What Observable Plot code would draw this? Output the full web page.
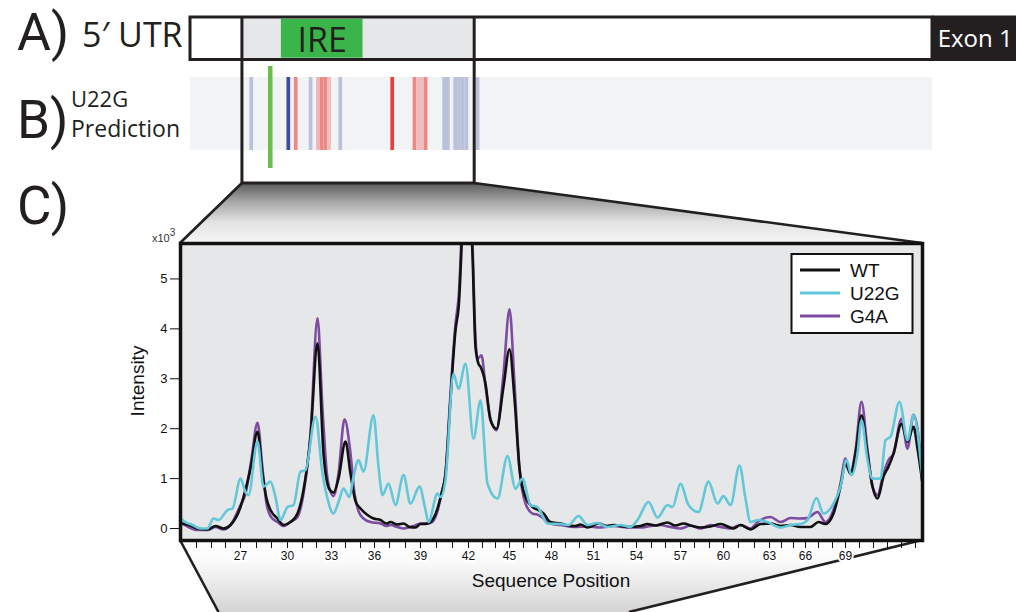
<!DOCTYPE html>
<html><head><meta charset="utf-8">
<script src="https://cdn.jsdelivr.net/npm/d3@7"></script>
<script src="https://cdn.jsdelivr.net/npm/@observablehq/plot@0.6"></script>
<style>
html,body{margin:0;padding:0;background:#fff;}
#fig{position:relative;width:1016px;height:612px;overflow:hidden;background:#fff;}
#fig > svg{position:absolute;left:0;margin:0;}
</style></head><body><div id="fig"></div>
<script>
// ---------------- data ----------------
// Panel A / B schematic (nucleotide coordinates of the 5' UTR)
const utrLength = 200;
const exonSpan = [200, 223];
const zoomRegion = [14, 76.6];
const ireRegion = [24.5, 46.5];
const mutationNt = 22;
const predNt    = [17, 27, 29, 33, 35, 36, 37, 38, 41, 55, 61, 62, 63, 64, 69, 70, 72, 73, 74, 75, 78];
const predDelta = [-0.3, -1, 0.6, -0.3, 0.35, 0.6, 0.6, 0.3, -0.3, 1, 0.6, 0.3, 0.3, 0.6, -0.3, -0.3, -0.3, -0.3, -0.3, -0.3, -0.3];

// Panel C: capillary trace (scan units) and sequence-position alignment
const seqPositions = d3.range(24, 75);
const seqScans = [16, 31, 45, 60, 76, 91, 107, 122, 136, 151, 165, 180, 194, 209, 225, 240, 256, 272, 288, 302,
  315, 329, 343, 357, 371, 385, 399, 413, 427, 442, 456, 471, 485, 500, 514, 529, 543, 558, 574, 589,
  601, 613, 625, 638, 652, 665, 679, 693, 707, 721, 735];
const labeledPositions = [27, 30, 33, 36, 39, 42, 45, 48, 51, 54, 57, 60, 63, 66, 69];
const intensityTicks = [0, 1, 2, 3, 4, 5];
const scanDomain = [0, 742];
const intensityDomain = [-0.24, 5.71];

const seriesNames = ["WT", "U22G", "G4A"];
const seriesColors = ["#111111", "#62c7d9", "#7d4b9f"];

// intensity (x10^3) at scan
const wt = [[0,0.10],[8,0.07],[17,0.0],[27,-0.02],[35,0.05],[43,0.0],[50,0.07],[60,0.43],[63,0.63],[70,1.2],[77,1.94],[82,1.1],[86,0.6],[90,0.37],[97,0.2],[103,0.07],[110,0.13],[117,0.3],[123,0.77],[130,1.84],[137,3.71],[143,1.5],[149,0.78],[153,0.72],[158,1.0],[165,1.74],[170,1.1],[175,0.55],[180,0.4],[187,0.27],[193,0.2],[200,0.17],[206,0.1],[210,0.13],[217,0.08],[223,0.1],[229,0.03],[235,0.02],[240,0.09],[245,0.09],[250,0.13],[257,0.4],[261,0.7],[265,1.1],[270,2.6],[275,3.97],[278,4.4],[286,7.5],[292,5.5],[295,3.64],[298,3.3],[300,3.24],[305,2.9],[310,2.17],[316,2.0],[323,2.84],[329,3.59],[334,2.6],[339,1.2],[345,0.63],[352,0.43],[358,0.37],[363,0.3],[370,0.13],[380,0.1],[388,0.06],[395,0.05],[400,0.08],[407,0.02],[418,0.1],[426,0.05],[433,0.07],[447,0.03],[460,0.05],[467,0.09],[475,0.06],[487,0.12],[495,0.06],[503,0.1],[512,0.05],[520,0.02],[530,0.04],[540,0.09],[553,0.0],[560,0.07],[570,-0.02],[580,0.09],[590,0.1],[600,0.05],[610,0.07],[620,0.03],[630,0.03],[638,0.13],[645,0.09],[653,0.3],[660,0.84],[665,1.3],[670,1.1],[675,1.5],[681,2.27],[687,1.5],[692,0.84],[697,0.6],[703,1.04],[708,1.24],[713,1.5],[721,2.1],[727,1.74],[733,2.04],[737,1.6],[742,0.9]];
const u22g = [[0,0.2],[5,0.13],[12,0.07],[20,0.0],[27,0.0],[33,0.2],[38,0.17],[47,0.37],[52,0.4],[60,1.0],[65,0.73],[68,0.67],[77,1.74],[83,0.84],[90,0.94],[95,0.63],[100,0.17],[107,0.43],[113,0.47],[120,1.14],[125,1.17],[135,2.24],[142,1.1],[147,0.6],[153,0.3],[158,0.53],[163,0.8],[169,0.63],[173,1.04],[178,1.37],[183,1.14],[193,2.27],[198,1.24],[202,0.67],[208,0.9],[215,0.47],[223,1.07],[230,0.5],[239,0.84],[245,0.37],[248,0.13],[257,0.7],[260,0.63],[265,0.97],[273,3.1],[278,2.8],[285,3.3],[293,1.8],[300,2.57],[307,0.9],[317,0.6],[327,1.45],[335,0.8],[342,1.0],[350,0.47],[357,0.43],[367,0.1],[380,0.09],[388,0.07],[398,0.25],[407,0.07],[417,0.11],[427,0.03],[440,0.07],[450,0.03],[457,0.17],[468,0.53],[477,0.22],[487,0.47],[492,0.43],[500,0.9],[508,0.47],[518,0.33],[528,0.94],[537,0.5],[543,0.65],[550,0.47],[559,1.26],[565,0.6],[570,0.13],[578,0.17],[587,0.13],[600,0.02],[610,0.07],[620,0.09],[627,0.17],[636,0.61],[643,0.3],[653,0.5],[660,0.84],[666,1.37],[671,1.07],[677,1.5],[681,2.17],[687,1.37],[692,1.0],[700,1.0],[705,1.77],[710,1.84],[719,2.54],[727,1.77],[733,2.27],[742,0.97]];
const g4a = [[0,0.13],[8,0.03],[17,-0.03],[27,-0.03],[35,0.03],[43,-0.02],[50,0.07],[60,0.47],[65,0.7],[71,1.4],[77,2.12],[82,1.2],[86,0.5],[90,0.25],[97,0.13],[103,0.05],[110,0.13],[117,0.23],[123,0.7],[130,1.9],[137,4.21],[142,2.4],[147,1.0],[153,0.65],[158,1.1],[164,2.19],[170,1.5],[174,0.7],[178,0.35],[183,0.2],[190,0.13],[200,0.1],[206,0.05],[210,0.07],[217,0.03],[223,0.0],[233,0.05],[240,0.1],[250,0.11],[257,0.35],[261,0.7],[265,1.1],[270,2.7],[275,4.1],[278,4.6],[286,7.8],[292,5.7],[295,3.8],[297,3.4],[301,3.47],[305,2.85],[310,2.2],[316,1.97],[323,3.1],[329,4.39],[334,2.9],[339,1.2],[345,0.5],[352,0.3],[358,0.27],[363,0.2],[370,0.1],[380,0.07],[393,0.03],[407,0.04],[420,0.02],[433,0.05],[447,0.02],[460,0.02],[470,0.05],[480,0.07],[490,0.03],[500,0.0],[510,0.06],[520,0.0],[530,0.07],[540,0.03],[550,0.0],[560,0.07],[570,0.0],[577,0.13],[590,0.23],[600,0.13],[610,0.21],[620,0.2],[627,0.21],[637,0.33],[645,0.13],[653,0.37],[660,0.9],[665,1.4],[670,1.1],[675,1.57],[681,2.54],[687,1.57],[692,0.84],[697,0.67],[703,1.1],[708,1.37],[713,1.5],[721,2.2],[727,1.6],[733,2.28],[737,2.0],[742,0.9]];

// ---------------- build ----------------
const fig = document.getElementById("fig");
const ink = "#231f20";
const labelFont = "'Open Sans', 'Noto Sans', sans-serif";
const letterFont = "Roboto, 'Open Sans', sans-serif";
const chartFont = "'Liberation Sans', Arial, Helvetica, sans-serif";
const xNt = {domain: [0, utrLength], range: [190, 932], axis: null};

// Panel A
const plotA = Plot.plot({
  width: 1016, height: 47, marginLeft: 0, marginRight: 0, marginTop: 2, marginBottom: 2.5,
  x: xNt,
  style: {background: "transparent", overflow: "visible"},
  marks: [
    Plot.rect([[0, utrLength]], {x1: d => d[0], x2: d => d[1], fill: "white"}),
    Plot.rect([zoomRegion], {x1: d => d[0], x2: d => d[1], fill: "#e6e7e8"}),
    Plot.rect([ireRegion], {x1: d => d[0], x2: d => d[1], fill: "#39b54a", insetTop: 1.8, insetBottom: 1.8}),
    Plot.rect([[0, utrLength]], {x1: d => d[0], x2: d => d[1], fill: "none", stroke: ink, strokeWidth: 3}),
    Plot.rect([exonSpan], {x1: d => d[0], x2: d => d[1], fill: ink, insetTop: -1.5, insetBottom: -1.5}),
    Plot.text(["IRE"], {x: (ireRegion[0] + ireRegion[1]) / 2, text: d => d, fontSize: 34, fill: ink, fontFamily: labelFont, dy: 2}),
    Plot.text(["Exon 1"], {x: (exonSpan[0] + exonSpan[1]) / 2, text: d => d, fontSize: 24, fill: "white", fontFamily: labelFont, dy: 1})
  ]
});
plotA.style.top = "15px";
fig.appendChild(plotA);

// Panel B
const plotB = Plot.plot({
  width: 1016, height: 102, margin: 0,
  x: xNt,
  color: {type: "linear", domain: [-1, 0, 1], range: ["#3d4c9f", "#f2f3f5", "#e8403a"]},
  style: {background: "transparent", overflow: "visible"},
  marks: [
    Plot.rect([[0, utrLength]], {x1: d => d[0], x2: d => d[1], fill: "#f2f3f5", insetTop: 11, insetBottom: 18}),
    Plot.rect(predNt, {x1: (d) => d - 1, x2: (d) => d, fill: (d, i) => predDelta[i], insetTop: 11, insetBottom: 18}),
    Plot.ruleX([mutationNt - 0.5], {stroke: "#6abf4b", strokeWidth: 4.5})
  ]
});
plotB.style.top = "66px";
fig.appendChild(plotB);

// Panel C chart
const labelOf = new Map(seqScans.map((s, i) => [s, seqPositions[i]]));
const lineOpts = (i) => ({x: d => d[0], y: d => d[1], stroke: seriesColors[i], strokeWidth: 2.6, curve: "monotone-x", clip: true});
const chart = Plot.plot({
  width: 1016, height: 612,
  marginLeft: 180, marginRight: 94, marginTop: 243, marginBottom: 72,
  x: {domain: scanDomain},
  y: {domain: intensityDomain},
  style: {background: "transparent", overflow: "visible", fontFamily: chartFont, color: "#111"},
  marks: [
    Plot.frame({fill: "#e6e7e8", stroke: null}),
    Plot.line(g4a, lineOpts(2)),
    Plot.line(wt, lineOpts(0)),
    Plot.line(u22g, lineOpts(1)),
    Plot.frame({stroke: "#111", strokeWidth: 3.5}),
    Plot.axisY(intensityTicks, {tickSize: 10, tickPadding: 3, fontSize: 13, label: null, tickFormat: d => String(d)}),
    Plot.axisX(seqScans, {tickSize: 8, tickPadding: 3, fontSize: 12, label: null,
      tickFormat: s => labeledPositions.includes(labelOf.get(s)) ? String(labelOf.get(s)) : "",
      textStroke: "white", textStrokeWidth: 4})
  ]
});

// layout derived from the scales
const sxA = plotA.scale("x");
const zx0 = sxA.apply(zoomRegion[0]), zx1 = sxA.apply(zoomRegion[1]);
const [cL, cR] = chart.scale("x").range;
const [cB, cT] = chart.scale("y").range;
const boxTop = 17, boxBottom = 183;

function mkSvg() {
  return d3.create("svg").attr("width", 1016).attr("height", 612).attr("viewBox", "0 0 1016 612").style("top", "0px");
}

// decoration under the chart
const under = mkSvg();
const defs = under.append("defs");
const gTop = defs.append("linearGradient").attr("id", "gTop").attr("x1", 0).attr("y1", 0).attr("x2", 0).attr("y2", 1);
[[0, "#5a5a5a"], [0.3, "#a4a4a4"], [0.65, "#e2e2e2"], [1, "#f6f6f6"]].forEach(([o, c]) => gTop.append("stop").attr("offset", o).attr("stop-color", c));
const gBot = defs.append("linearGradient").attr("id", "gBot").attr("x1", 0).attr("y1", 0).attr("x2", 0).attr("y2", 1);
[[0, "#ffffff"], [0.3, "#fafafa"], [1, "#d4d4d4"]].forEach(([o, c]) => gBot.append("stop").attr("offset", o).attr("stop-color", c));

under.append("polygon").attr("points", [[zx0, boxBottom], [zx1, boxBottom], [cR, cT], [cL, cT]].join(" ")).attr("fill", "url(#gTop)");
const botL = cL + 38.5, botR = cR - 293;
under.append("polygon").attr("points", [[cL, cB], [cR, cB], [botR, 612], [botL, 612]].join(" ")).attr("fill", "url(#gBot)");
under.append("path").attr("d", `M${zx0},${boxBottom}L${cL},${cT}M${zx1},${boxBottom}L${cR},${cT}M${cL},${cB}L${botL},612M${cR},${cB}L${botR},612`)
  .attr("stroke", ink).attr("stroke-width", 2.6).attr("fill", "none");
under.append("path").attr("d", `M${zx0},${boxTop}V${boxBottom}H${zx1}V${boxTop}`)
  .attr("stroke", ink).attr("stroke-width", 3).attr("fill", "none");
fig.appendChild(under.node());

chart.style.top = "0px";
fig.appendChild(chart);

// text overlay and legend
const over = mkSvg();
const T = (x, y, s, size, fam, extra = {}) => {
  const t = over.append("text").attr("x", x).attr("y", y).attr("font-size", size).attr("font-family", fam).attr("fill", ink).text(s);
  Object.entries(extra).forEach(([k, v]) => t.attr(k, v));
  return t;
};
T(17, 50, "A)", 52, letterFont);
T(82, 47, "5\u2032 UTR", 34, labelFont);
T(17, 138, "B)", 53, letterFont);
T(71, 107, "U22G", 22, labelFont);
T(71, 137, "Prediction", 23, labelFont);
T(17, 224, "C)", 53, letterFont);

T(0, 0, "Intensity", 19, chartFont, {"text-anchor": "middle", transform: "translate(144,381) rotate(-90)", fill: "#111"});
T((cL + cR) / 2, 587, "Sequence Position", 19, chartFont, {"text-anchor": "middle", fill: "#111"});
const xt = T(152, 242, "x10", 11, chartFont, {fill: "#333"});
xt.append("tspan").attr("dy", -6).attr("font-size", 10).text("3");

const lg = over.append("g");
lg.append("rect").attr("x", 791.5).attr("y", 254).attr("width", 121).attr("height", 79).attr("fill", "white").attr("stroke", "#111").attr("stroke-width", 2);
seriesNames.forEach((name, i) => {
  const yy = 270 + 23 * i;
  lg.append("line").attr("x1", 800).attr("x2", 840).attr("y1", yy).attr("y2", yy).attr("stroke", seriesColors[i]).attr("stroke-width", 3);
  lg.append("text").attr("x", 850).attr("y", yy + 7).attr("font-size", 19).attr("font-family", chartFont).attr("fill", "#111").text(name);
});
fig.appendChild(over.node());
</script>
</body></html>
